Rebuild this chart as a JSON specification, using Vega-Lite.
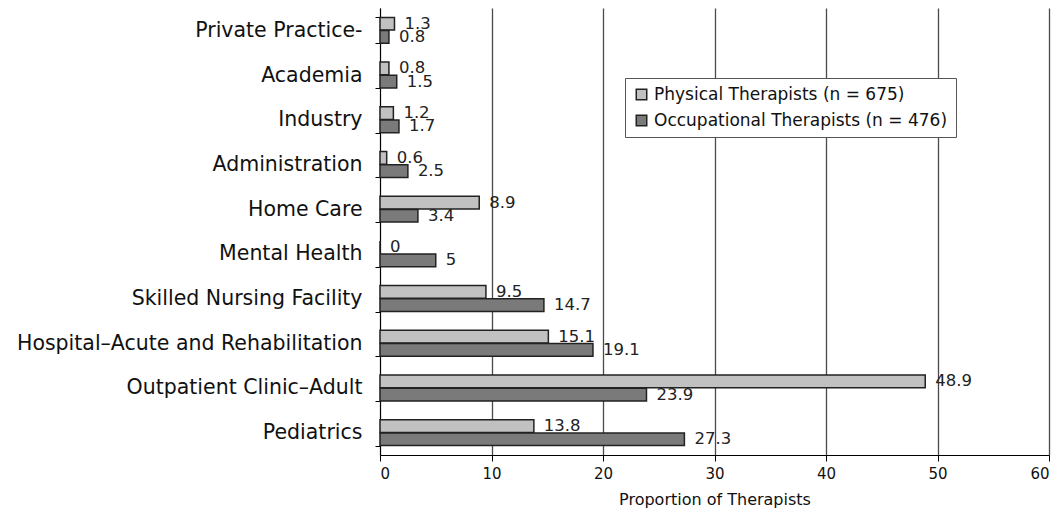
{
  "$schema": "https://vega.github.io/schema/vega-lite/v6.json",
  "width": 669,
  "height": 447,
  "autosize": {"type": "none"},
  "padding": {"left": 380, "top": 8, "right": 13, "bottom": 61},
  "background": "white",
  "title": {"text": "pists in most areas:", "font": "Liberation Serif", "fontSize": 27, "fontWeight": "normal", "anchor": "start", "frame": "group", "dx": -380, "offset": 2, "baseline": "alphabetic", "color": "black"},
  "config": {"view": {"stroke": null}},
  "data": {"values": [
    {"setting": "Private Practice-", "group": "Physical Therapists (n = 675)", "value": 1.3},
    {"setting": "Private Practice-", "group": "Occupational Therapists (n = 476)", "value": 0.8},
    {"setting": "Academia", "group": "Physical Therapists (n = 675)", "value": 0.8},
    {"setting": "Academia", "group": "Occupational Therapists (n = 476)", "value": 1.5},
    {"setting": "Industry", "group": "Physical Therapists (n = 675)", "value": 1.2},
    {"setting": "Industry", "group": "Occupational Therapists (n = 476)", "value": 1.7},
    {"setting": "Administration", "group": "Physical Therapists (n = 675)", "value": 0.6},
    {"setting": "Administration", "group": "Occupational Therapists (n = 476)", "value": 2.5},
    {"setting": "Home Care", "group": "Physical Therapists (n = 675)", "value": 8.9},
    {"setting": "Home Care", "group": "Occupational Therapists (n = 476)", "value": 3.4},
    {"setting": "Mental Health", "group": "Physical Therapists (n = 675)", "value": 0},
    {"setting": "Mental Health", "group": "Occupational Therapists (n = 476)", "value": 5},
    {"setting": "Skilled Nursing Facility", "group": "Physical Therapists (n = 675)", "value": 9.5},
    {"setting": "Skilled Nursing Facility", "group": "Occupational Therapists (n = 476)", "value": 14.7},
    {"setting": "Hospital–Acute and Rehabilitation", "group": "Physical Therapists (n = 675)", "value": 15.1},
    {"setting": "Hospital–Acute and Rehabilitation", "group": "Occupational Therapists (n = 476)", "value": 19.1},
    {"setting": "Outpatient Clinic–Adult", "group": "Physical Therapists (n = 675)", "value": 48.9},
    {"setting": "Outpatient Clinic–Adult", "group": "Occupational Therapists (n = 476)", "value": 23.9},
    {"setting": "Pediatrics", "group": "Physical Therapists (n = 675)", "value": 13.8},
    {"setting": "Pediatrics", "group": "Occupational Therapists (n = 476)", "value": 27.3}
  ]},
  "encoding": {
    "y": {
      "field": "setting", "type": "nominal",
      "sort": ["Private Practice-", "Academia", "Industry", "Administration", "Home Care", "Mental Health", "Skilled Nursing Facility", "Hospital–Acute and Rehabilitation", "Outpatient Clinic–Adult", "Pediatrics"],
      "scale": {"paddingInner": 0.42, "paddingOuter": 0.21},
      "axis": {"title": null, "labelFont": "DejaVu Sans", "labelFontSize": 20.5, "labelColor": "#111", "labelPadding": 13, "labelLimit": 400, "tickSize": 5, "tickBand": "extent", "domainColor": "black", "tickColor": "black", "grid": false}
    },
    "yOffset": {
      "field": "group", "type": "nominal",
      "sort": ["Physical Therapists (n = 675)", "Occupational Therapists (n = 476)"],
      "scale": {"paddingInner": 0.04}
    },
    "x": {
      "field": "value", "type": "quantitative",
      "scale": {"domain": [0, 60], "nice": false},
      "axis": {"values": [0, 10, 20, 30, 40, 50, 60], "grid": true, "gridColor": "#4a4a4a", "gridWidth": 1.3, "tickSize": 6, "tickColor": "black", "domainColor": "black", "labelFont": "DejaVu Sans", "labelFontSize": 15, "labelColor": "#111", "labelPadding": 5, "title": "Proportion of Therapists", "titleFont": "DejaVu Sans", "titleFontSize": 16, "titleFontWeight": "normal", "titleColor": "#111", "titlePadding": 10}
    }
  },
  "layer": [
    {
      "mark": {"type": "bar", "stroke": "#222", "strokeWidth": 1.5},
      "encoding": {
        "color": {
          "field": "group", "type": "nominal",
          "sort": ["Physical Therapists (n = 675)", "Occupational Therapists (n = 476)"],
          "scale": {"range": ["#c1c1c1", "#7a7a7a"]},
          "legend": {"title": null, "orient": "none", "legendX": 245, "legendY": 70, "fillColor": "white", "strokeColor": "#555", "padding": 8, "symbolType": "square", "symbolSize": 110, "symbolStrokeColor": "#222", "symbolStrokeWidth": 1.5, "labelFont": "DejaVu Sans", "labelFontSize": 17, "labelColor": "#111", "labelLimit": 400, "rowPadding": 8}
        }
      }
    },
    {
      "mark": {"type": "text", "align": "left", "dx": 10, "font": "DejaVu Sans", "fontSize": 16.5, "color": "#222"},
      "encoding": {
        "text": {"field": "value", "type": "quantitative", "format": ".1~f"}
      }
    }
  ]
}
